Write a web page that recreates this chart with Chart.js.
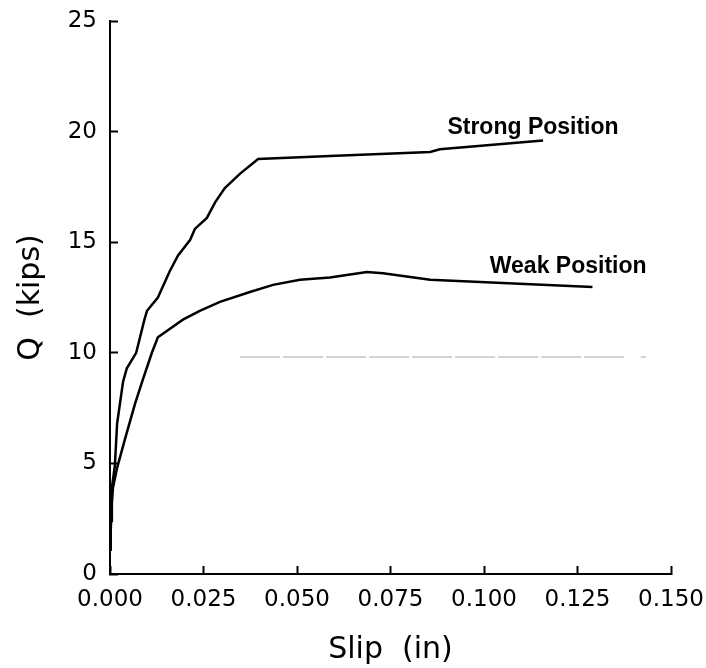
<!DOCTYPE html>
<html>
<head>
<meta charset="utf-8">
<script src="https://cdn.jsdelivr.net/npm/chart.js@4/dist/chart.umd.min.js"></script>
<style>
  body { margin: 0; background: #fff; }
  canvas { display: block; }
</style>
</head>
<body>
<canvas id="myChart" width="706" height="668"></canvas>
<script>
// slip (in) vs load Q (kips)
var strongSlip = [0, 0.0003, 0.0005, 0.0013, 0.0019, 0.0035, 0.0045, 0.007, 0.0092, 0.0099, 0.0128,
  0.016, 0.0182, 0.0214, 0.0227, 0.0259, 0.0281, 0.0307, 0.0348, 0.0396, 0.0588, 0.0856, 0.0882, 0.1158];
var strongLoad = [1.1, 2.4, 3.9, 4.9, 6.8, 8.7, 9.3, 10.0, 11.5, 11.9, 12.5,
  13.7, 14.4, 15.1, 15.6, 16.1, 16.8, 17.45, 18.1, 18.76, 18.9, 19.08, 19.2, 19.6];

var weakSlip = [0, 0.0002, 0.0008, 0.0019, 0.004, 0.0067, 0.0088, 0.0112, 0.0128, 0.0195, 0.024,
  0.0294, 0.0374, 0.0436, 0.0508, 0.0588, 0.0687, 0.073, 0.0856, 0.099, 0.129];
var weakLoad = [1.1, 2.6, 3.9, 4.8, 6.1, 7.7, 8.8, 10.0, 10.7, 11.5, 11.9,
  12.3, 12.75, 13.07, 13.3, 13.4, 13.65, 13.6, 13.3, 13.2, 12.97];

// faint grey line near 10 kips
var refSlip = [0.0348, 0.1382, null, 0.1419, 0.1433];
var refLoad = [9.81, 9.81, null, 9.81, 9.81];

var curveLabels = ["Strong Position", "Weak Position"];
var labelSlip = [0.1131, 0.1225];
var labelLoad = [20.16, 13.9];

var xTicks = [0, 0.025, 0.05, 0.075, 0.1, 0.125, 0.15];
var yTicks = [0, 5, 10, 15, 20, 25];

function toPoints(xs, ys) {
  var pts = [];
  for (var i = 0; i < xs.length; i++) {
    if (xs[i] === null) { pts.push({x: NaN, y: NaN}); continue; }
    pts.push({x: xs[i], y: ys[i]});
  }
  return pts;
}

var curveText = {      // draws the two curve names at data positions
  id: 'curveText',
  afterDatasetsDraw: function(chart) {
    var ctx = chart.ctx;
    var xs = chart.scales.x, ys = chart.scales.y;
    ctx.save();
    ctx.fillStyle = '#000';
    ctx.font = 'bold 23px "Liberation Sans", Arial, sans-serif';
    ctx.textAlign = 'center';
    ctx.textBaseline = 'middle';
    for (var i = 0; i < curveLabels.length; i++) {
      ctx.fillText(curveLabels[i], xs.getPixelForValue(labelSlip[i]), ys.getPixelForValue(labelLoad[i]));
    }
    ctx.restore();
  }
};

var axisFont = { family: '"DejaVu Sans", sans-serif', size: 23 };
var titleFont = { family: '"DejaVu Sans", sans-serif', size: 30 };

var chart = new Chart(document.getElementById('myChart').getContext('2d'), {
  type: 'line',
  data: {
    datasets: [
      { label: 'Strong', data: toPoints(strongSlip, strongLoad), borderColor: '#000', borderWidth: 2.5 },
      { label: 'Weak', data: toPoints(weakSlip, weakLoad), borderColor: '#000', borderWidth: 2.5 },
      { label: 'ref', data: toPoints(refSlip, refLoad), borderColor: '#a8a8a8', borderWidth: 1,
        borderDash: [40, 3], spanGaps: false }
    ]
  },
  options: {
    responsive: false,
    animation: false,
    elements: { point: { radius: 0 }, line: { tension: 0 } },
    layout: { padding: { left: 0, top: 21, right: 35, bottom: 0 } },
    plugins: { legend: { display: false }, tooltip: { enabled: false } },
    scales: {
      x: {
        type: 'linear',
        min: 0, max: 0.15,
        afterBuildTicks: function(s) { s.ticks = xTicks.map(function(v) { return {value: v}; }); },
        afterFit: function(s) { s.height = 94; s.paddingLeft = 0; s.paddingRight = 0; },
        ticks: {
          color: '#000', font: axisFont, padding: 20, maxRotation: 0,
          callback: function(v) { return v.toFixed(3); }
        },
        grid: { drawOnChartArea: false, tickLength: -8, tickWidth: 2, color: '#000' },
        border: { color: '#000', width: 2 },
        title: { display: true, text: 'Slip  (in)', color: '#000', font: titleFont, padding: 0 }
      },
      y: {
        min: 0, max: 25,
        afterBuildTicks: function(s) { s.ticks = yTicks.map(function(v) { return {value: v}; }); },
        afterFit: function(s) { s.width = 110; s.paddingTop = 0; s.paddingBottom = 0; },
        ticks: { color: '#000', font: axisFont, padding: 21 },
        grid: { drawOnChartArea: false, tickLength: -8, tickWidth: 2, color: '#000' },
        border: { color: '#000', width: 2 },
        title: { display: true, text: 'Q  (kips)', color: '#000', font: titleFont, padding: { top: 13, bottom: 0 } }
      }
    }
  },
  plugins: [curveText]
});
</script>
</body>
</html>
